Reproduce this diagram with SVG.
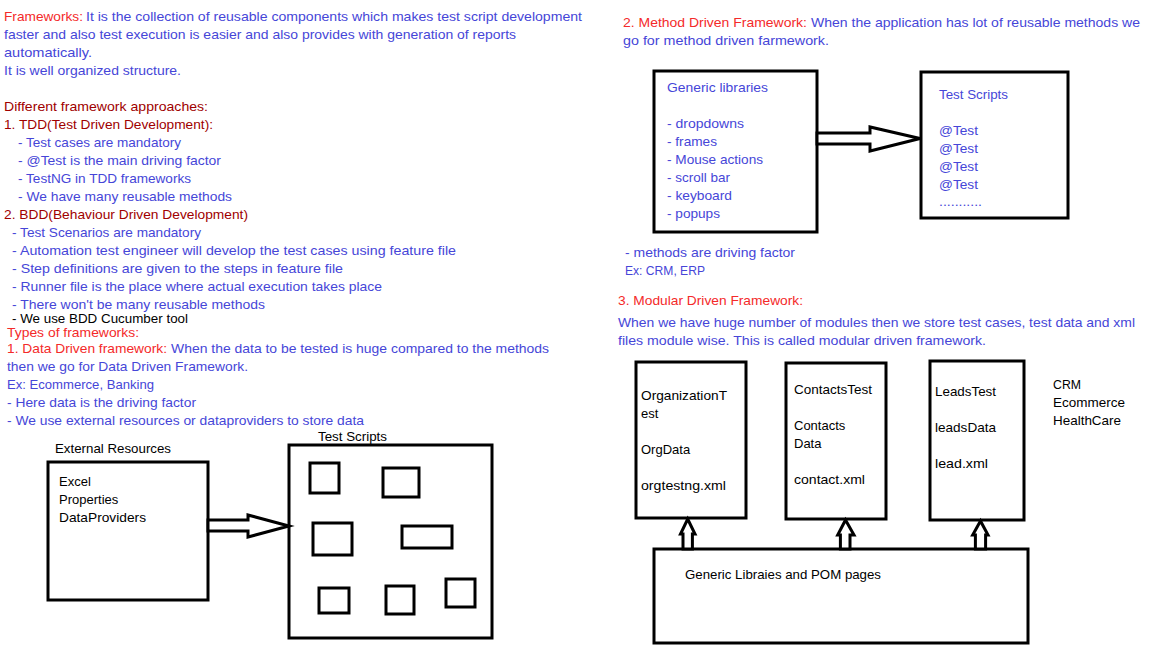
<svg xmlns="http://www.w3.org/2000/svg" width="1152" height="648" viewBox="0 0 1152 648">
<style>
text{font-family:"Liberation Sans",Arial,sans-serif;font-size:13px;}
.b{fill:#4646d8}
.r{fill:#f42a2a}
.d{fill:#a00000}
.k{fill:#000}
.box{fill:none;stroke:#000;stroke-width:3}
.arr{fill:#fff;stroke:#000;stroke-width:3;stroke-linejoin:miter}
</style>
<rect width="1152" height="648" fill="#fff"/>
<g id="notes-left">
<text class="r" x="4" y="21" textLength="79" lengthAdjust="spacingAndGlyphs">Frameworks:</text>
<text class="b" x="86" y="21" textLength="496" lengthAdjust="spacingAndGlyphs">It is the collection of reusable components which makes test script development</text>
<text class="b" x="4" y="39" textLength="512" lengthAdjust="spacingAndGlyphs">faster and also test execution is easier and also provides with generation of reports</text>
<text class="b" x="4" y="57" textLength="88" lengthAdjust="spacingAndGlyphs">automatically.</text>
<text class="b" x="4" y="75" textLength="177" lengthAdjust="spacingAndGlyphs">It is well organized structure.</text>
<text class="d" x="4" y="111" textLength="204" lengthAdjust="spacingAndGlyphs">Different framework approaches:</text>
<text class="d" x="4" y="129" textLength="209" lengthAdjust="spacingAndGlyphs">1. TDD(Test Driven Development):</text>
<text class="b" x="18" y="147" textLength="163" lengthAdjust="spacingAndGlyphs">- Test cases are mandatory</text>
<text class="b" x="18" y="165" textLength="203" lengthAdjust="spacingAndGlyphs">- @Test is the main driving factor</text>
<text class="b" x="18" y="183" textLength="173" lengthAdjust="spacingAndGlyphs">- TestNG in TDD frameworks</text>
<text class="b" x="18" y="201" textLength="214" lengthAdjust="spacingAndGlyphs">- We have many reusable methods</text>
<text class="d" x="4" y="219" textLength="244" lengthAdjust="spacingAndGlyphs">2. BDD(Behaviour Driven Development)</text>
<text class="b" x="12" y="237" textLength="189" lengthAdjust="spacingAndGlyphs">- Test Scenarios are mandatory</text>
<text class="b" x="12" y="255" textLength="444" lengthAdjust="spacingAndGlyphs">- Automation test engineer will develop the test cases using feature file</text>
<text class="b" x="12" y="273" textLength="331" lengthAdjust="spacingAndGlyphs">- Step definitions are given to the steps in feature file</text>
<text class="b" x="12" y="291" textLength="370" lengthAdjust="spacingAndGlyphs">- Runner file is the place where actual execution takes place</text>
<text class="b" x="12" y="309" textLength="253" lengthAdjust="spacingAndGlyphs">- There won't be many reusable methods</text>
<text class="k" x="12" y="323" textLength="176" lengthAdjust="spacingAndGlyphs">- We use BDD Cucumber tool</text>
<text class="r" x="7" y="337" textLength="132" lengthAdjust="spacingAndGlyphs">Types of frameworks:</text>
<text class="r" x="7" y="353" textLength="160" lengthAdjust="spacingAndGlyphs">1. Data Driven framework:</text>
<text class="b" x="171" y="353" textLength="378" lengthAdjust="spacingAndGlyphs">When the data to be tested is huge compared to the methods</text>
<text class="b" x="7" y="371" textLength="241" lengthAdjust="spacingAndGlyphs">then we go for Data Driven Framework.</text>
<text class="b" x="7" y="389" textLength="147" lengthAdjust="spacingAndGlyphs">Ex: Ecommerce, Banking</text>
<text class="b" x="7" y="407" textLength="189" lengthAdjust="spacingAndGlyphs">- Here data is the driving factor</text>
<text class="b" x="7" y="425" textLength="357" lengthAdjust="spacingAndGlyphs">- We use external resources or dataproviders to store data</text>
</g>
<g id="notes-right">
<text class="r" x="623" y="27" textLength="184" lengthAdjust="spacingAndGlyphs">2. Method Driven Framework:</text>
<text class="b" x="811" y="27" textLength="329" lengthAdjust="spacingAndGlyphs">When the application has lot of reusable methods we</text>
<text class="b" x="623" y="45" textLength="206" lengthAdjust="spacingAndGlyphs">go for method driven farmework.</text>
<text class="b" x="625" y="257" textLength="170" lengthAdjust="spacingAndGlyphs">- methods are driving factor</text>
<text class="b" x="625" y="275" textLength="80" lengthAdjust="spacingAndGlyphs">Ex: CRM, ERP</text>
<text class="r" x="618" y="305" textLength="185" lengthAdjust="spacingAndGlyphs">3. Modular Driven Framework:</text>
<text class="b" x="618" y="327" textLength="517" lengthAdjust="spacingAndGlyphs">When we have huge number of modules then we store test cases, test data and xml</text>
<text class="b" x="618" y="345" textLength="368" lengthAdjust="spacingAndGlyphs">files module wise. This is called modular driven framework.</text>
<text class="k" x="1053" y="389" textLength="28" lengthAdjust="spacingAndGlyphs">CRM</text>
<text class="k" x="1053" y="407" textLength="72" lengthAdjust="spacingAndGlyphs">Ecommerce</text>
<text class="k" x="1053" y="425" textLength="68" lengthAdjust="spacingAndGlyphs">HealthCare</text>
</g>
<g id="external-resources">
<text class="k" x="55" y="453" textLength="116" lengthAdjust="spacingAndGlyphs">External Resources</text>
<rect class="box" x="48" y="462" width="160" height="138"/>
<text class="k" x="59" y="486">Excel</text>
<text class="k" x="59" y="504">Properties</text>
<text class="k" x="59" y="522" textLength="87" lengthAdjust="spacingAndGlyphs">DataProviders</text>
</g>
<g id="test-scripts-data">
<text class="k" x="318" y="441" textLength="69" lengthAdjust="spacingAndGlyphs">Test Scripts</text>
<rect class="box" x="289" y="445" width="203" height="193"/>
<rect class="box" x="310" y="463" width="29" height="30"/>
<rect class="box" x="383" y="468" width="36" height="29"/>
<rect class="box" x="313" y="523" width="39" height="32"/>
<rect class="box" x="402" y="526" width="50" height="22"/>
<rect class="box" x="319" y="588" width="30" height="25"/>
<rect class="box" x="386" y="586" width="28" height="28"/>
<rect class="box" x="446" y="579" width="29" height="28"/>
</g>
<g id="generic-libraries">
<rect class="box" x="654" y="71" width="163" height="161"/>
<text class="b" x="667" y="92" textLength="101" lengthAdjust="spacingAndGlyphs">Generic libraries</text>
<text class="b" x="667" y="128" textLength="77" lengthAdjust="spacingAndGlyphs">- dropdowns</text>
<text class="b" x="667" y="146" textLength="50" lengthAdjust="spacingAndGlyphs">- frames</text>
<text class="b" x="667" y="164" textLength="96" lengthAdjust="spacingAndGlyphs">- Mouse actions</text>
<text class="b" x="667" y="182" textLength="63" lengthAdjust="spacingAndGlyphs">- scroll bar</text>
<text class="b" x="667" y="200" textLength="65" lengthAdjust="spacingAndGlyphs">- keyboard</text>
<text class="b" x="667" y="218" textLength="53" lengthAdjust="spacingAndGlyphs">- popups</text>
</g>
<g id="test-scripts-method">
<rect class="box" x="921" y="72" width="147" height="146"/>
<text class="b" x="939" y="99" textLength="69" lengthAdjust="spacingAndGlyphs">Test Scripts</text>
<text class="b" x="939" y="135" textLength="39" lengthAdjust="spacingAndGlyphs">@Test</text>
<text class="b" x="939" y="153" textLength="39" lengthAdjust="spacingAndGlyphs">@Test</text>
<text class="b" x="939" y="171" textLength="39" lengthAdjust="spacingAndGlyphs">@Test</text>
<text class="b" x="939" y="189" textLength="39" lengthAdjust="spacingAndGlyphs">@Test</text>
<text class="b" x="939" y="206" textLength="43" lengthAdjust="spacingAndGlyphs">...........</text>
</g>
<g id="org-module">
<rect class="box" x="636" y="362" width="110" height="156"/>
<text class="k" x="641" y="400" textLength="86" lengthAdjust="spacingAndGlyphs">OrganizationT</text>
<text class="k" x="641" y="418">est</text>
<text class="k" x="641" y="454">OrgData</text>
<text class="k" x="641" y="490" textLength="85" lengthAdjust="spacingAndGlyphs">orgtestng.xml</text>
</g>
<g id="contacts-module">
<rect class="box" x="786" y="363" width="100" height="156"/>
<text class="k" x="794" y="394" textLength="78" lengthAdjust="spacingAndGlyphs">ContactsTest</text>
<text class="k" x="794" y="430">Contacts</text>
<text class="k" x="794" y="448">Data</text>
<text class="k" x="794" y="484" textLength="71" lengthAdjust="spacingAndGlyphs">contact.xml</text>
</g>
<g id="leads-module">
<rect class="box" x="930" y="361" width="94" height="159"/>
<text class="k" x="935" y="396" textLength="61" lengthAdjust="spacingAndGlyphs">LeadsTest</text>
<text class="k" x="935" y="432" textLength="61" lengthAdjust="spacingAndGlyphs">leadsData</text>
<text class="k" x="935" y="468" textLength="53" lengthAdjust="spacingAndGlyphs">lead.xml</text>
</g>
<g id="generic-pom">
<rect class="box" x="654" y="549" width="374" height="94"/>
<text class="k" x="685" y="579" textLength="196" lengthAdjust="spacingAndGlyphs">Generic Libraies and POM pages</text>
</g>
<g id="connectors">
<polygon class="arr" points="208,520 248,520 248,515 289,526 248,537 248,531 208,531"/>
<polygon class="arr" points="817,133 870,133 870,127 920,138.5 870,151 870,144 817,144"/>
<polygon class="arr" points="683,549 683,534 680.5,534 687.7,519 695,534 692.4,534 692.4,549"/>
<polygon class="arr" points="840.4,549 840.4,535 837.7,535 845.5,520 854,535 850,535 850,549"/>
<polygon class="arr" points="975.4,549 975.4,535 972.7,535 980.5,521 988,535 985.6,535 985.6,549"/>
</g>
</svg>
